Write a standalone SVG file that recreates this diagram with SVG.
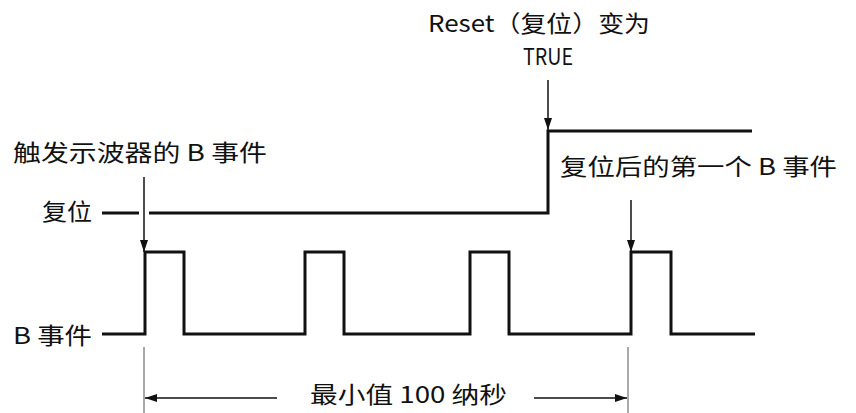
<svg xmlns="http://www.w3.org/2000/svg" width="856" height="413" viewBox="0 0 856 413">
<style>
.sig{fill:none;stroke:#111;stroke-width:3;stroke-linejoin:miter;stroke-linecap:butt}
.arr{fill:none;stroke:#111;stroke-width:1.5}
.ext{fill:none;stroke:#555;stroke-width:1}
text{font-family:"Noto Sans CJK SC","DejaVu Sans",sans-serif;font-size:23px;fill:#111}
</style>
<defs>
<marker id="ah" viewBox="0 0 12 8" refX="12" refY="4" markerWidth="12" markerHeight="8" markerUnits="userSpaceOnUse" orient="auto">
<path d="M0,0 L12,4 L0,8 Z" fill="#111"/>
</marker>
</defs>
<rect width="856" height="413" fill="#fff"/>
<g id="reset-signal">
<path class="sig" d="M102,213 H139 M149,213 H548 V131 H752"/>
<text x="42" y="220" textLength="50" lengthAdjust="spacingAndGlyphs">复位</text>
</g>
<g id="b-event-signal">
<path class="sig" d="M102,334 H145 V252 H184 V334 H305 V252 H344 V334 H470 V252 H509 V334 H631 V252 H671 V334 H755"/>
<text x="13" y="344" textLength="79" lengthAdjust="spacingAndGlyphs">B 事件</text>
</g>
<g id="label-trigger">
<text x="13" y="161" textLength="254" lengthAdjust="spacingAndGlyphs">触发示波器的 B 事件</text>
</g>
<g id="label-reset-true">
<text x="428" y="32" textLength="222" lengthAdjust="spacingAndGlyphs">Reset（复位）变为</text>
<text x="548" y="65" text-anchor="middle" textLength="50" lengthAdjust="spacingAndGlyphs">TRUE</text>
</g>
<g id="label-first-after">
<text x="560" y="175" textLength="277" lengthAdjust="spacingAndGlyphs">复位后的第一个 B 事件</text>
</g>
<g id="label-min">
<text x="310" y="403" textLength="197" lengthAdjust="spacingAndGlyphs">最小值 100 纳秒</text>
</g>
<g id="connectors">
<line class="arr" x1="144" y1="177" x2="144" y2="252" marker-end="url(#ah)"/>
<line class="arr" x1="548" y1="80" x2="548" y2="130" marker-end="url(#ah)"/>
<line class="arr" x1="631" y1="200" x2="631" y2="252" marker-end="url(#ah)"/>
<line class="ext" x1="144" y1="347" x2="144" y2="413"/>
<line class="ext" x1="628" y1="347" x2="628" y2="413"/>
<line class="arr" x1="277" y1="398" x2="145" y2="398" marker-end="url(#ah)"/>
<line class="arr" x1="534" y1="398" x2="627" y2="398" marker-end="url(#ah)"/>
</g>
</svg>
